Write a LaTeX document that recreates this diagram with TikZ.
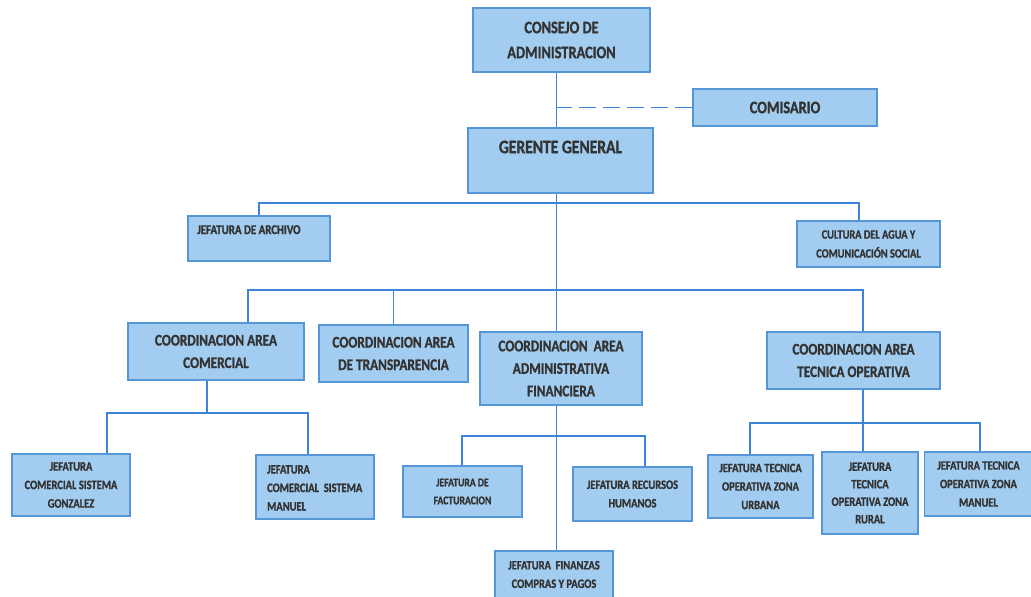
\documentclass[tikz,border=0pt]{standalone}
\usepackage{fontspec}
\newfontfamily\cf[FakeStretch=0.82,BoldFeatures={FakeBold=1.2}]{Carlito}
\newcommand\fsz[2]{\fontsize{#1}{#2}\selectfont}
\definecolor{boxfill}{HTML}{A3CDF0}
\definecolor{boxline}{HTML}{5596D6}
\definecolor{conline}{HTML}{3B84D6}
\definecolor{txtcol}{HTML}{333333}
\tikzset{
  box/.style={draw=boxline, fill=boxfill, line width=1.2pt, inner sep=0pt, text=txtcol, align=center},
  lbl/.style={inner sep=0pt, text=txtcol},
  conn/.style={draw=conline, line width=1.7pt},
  big/.style={font=\cf\bfseries\fsz{17.5}{25}},
  mid/.style={font=\cf\bfseries\fsz{16.2}{22.5}},
  sml/.style={font=\cf\bfseries\fsz{12.8}{18.5}},
}
\begin{document}
\begin{tikzpicture}[x=1pt,y=-1pt]
\useasboundingbox (0,0) rectangle (1031,597);
% ---- boxes
\node[box,big,minimum width=177,minimum height=64] (consejo) at (561.5,40) {CONSEJO DE\\ADMINISTRACION};
\node[box,big,minimum width=184,minimum height=37] (comisario) at (785,107.5) {COMISARIO};
\node[box,minimum width=185,minimum height=65] (gerente) at (560.5,160.5) {};
\node[lbl,font=\cf\bfseries\fsz{19}{22}] (tgerente) at (560.5,147) {GERENTE GENERAL};
\node[box,minimum width=142,minimum height=45] (archivo) at (259,238.5) {};
\node[lbl,font=\cf\bfseries\fsz{13.3}{18},anchor=base west] (tarchivo) at (197,234) {JEFATURA DE ARCHIVO};
\node[box,font=\cf\bfseries\fsz{12.6}{19},minimum width=143,minimum height=46] (cultura) at (868.5,244) {CULTURA DEL AGUA Y\\COMUNICACIÓN SOCIAL};
\node[box,mid,minimum width=176,minimum height=57] (comercial) at (216,351.5) {COORDINACION AREA\\COMERCIAL};
\node[box,mid,minimum width=149,minimum height=57] (transp) at (393.5,353.5) {COORDINACION AREA\\DE TRANSPARENCIA};
\node[box,mid,minimum width=162,minimum height=73] (admin) at (561,368.5) {COORDINACION\ \ AREA\\ADMINISTRATIVA\\FINANCIERA};
\node[box,mid,minimum width=173,minimum height=57] (tecnica) at (853.5,360.5) {COORDINACION AREA\\TECNICA OPERATIVA};
\node[box,sml,minimum width=118,minimum height=62] (gonzalez) at (71,485) {JEFATURA\\COMERCIAL SISTEMA\\GONZALEZ};
\node[box,minimum width=118,minimum height=64] (manuelc) at (315,487) {};
\node[lbl,sml,align=left,anchor=north west] (tmanuelc) at (267,465) {JEFATURA\\COMERCIAL\ \ SISTEMA\\MANUEL};
\node[box,font=\cf\bfseries\fsz{11.8}{18},minimum width=119,minimum height=51] (fact) at (462.5,491.5) {JEFATURA DE\\FACTURACION};
\node[box,sml,minimum width=119,minimum height=54] (recursos) at (632.5,494) {JEFATURA RECURSOS\\HUMANOS};
\node[box,sml,minimum width=118,minimum height=47] (finanzas) at (554,574.5) {JEFATURA\ \ FINANZAS\\COMPRAS Y PAGOS};
\node[box,sml,minimum width=105,minimum height=63] (urbana) at (760.5,486.5) {JEFATURA TECNICA\\OPERATIVA ZONA\\URBANA};
\node[box,font=\cf\bfseries\fsz{12.8}{17.5},minimum width=96,minimum height=82] (rural) at (870,493) {JEFATURA\\TECNICA\\OPERATIVA ZONA\\RURAL};
\node[box,sml,minimum width=108,minimum height=64] (manuelt) at (978.5,484) {JEFATURA TECNICA\\OPERATIVA ZONA\\MANUEL};
% ---- connector coordinates
\coordinate (v) at (556.5,0);
\coordinate (d1) at (859,203);
\coordinate (d2l) at (248,290);
\coordinate (d2r) at (863,290);
\coordinate (c0) at (207,413);
\coordinate (c1) at (107,413);
\coordinate (c2) at (308,413);
\coordinate (a1) at (462,436);
\coordinate (a2) at (645,436);
\coordinate (t0) at (863,423);
\coordinate (t1) at (750,423);
\coordinate (t2) at (980,423);
% ---- connectors
\draw[conn] (consejo.south -| v) -- (gerente.north -| v);
\draw[conn, dash pattern=on 17pt off 7pt] (comisario.west) -- (comisario.west -| v);
\draw[conn] (gerente.south -| v) -- (admin.north -| v);
\draw[conn] (archivo.north) |- (d1) -- (d1 |- cultura.north);
\draw[conn] (comercial.north -| d2l) -- (d2l) -- (d2r) -- (tecnica.north -| d2r);
\draw[conn] (transp.north) -- (transp.north |- d2l);
\draw[conn] (comercial.south -| c0) -- (c0);
\draw[conn] (gonzalez.north -| c1) -- (c1) -- (c2) -- (manuelc.north -| c2);
\draw[conn] (admin.south -| v) -- (finanzas.north -| v);
\draw[conn] (fact.north -| a1) -- (a1) -- (a2) -- (recursos.north -| a2);
\draw[conn] (tecnica.south -| t0) -- (rural.north -| t0);
\draw[conn] (urbana.north -| t1) -- (t1) -- (t2) -- (manuelt.north -| t2);
\end{tikzpicture}
\end{document}
